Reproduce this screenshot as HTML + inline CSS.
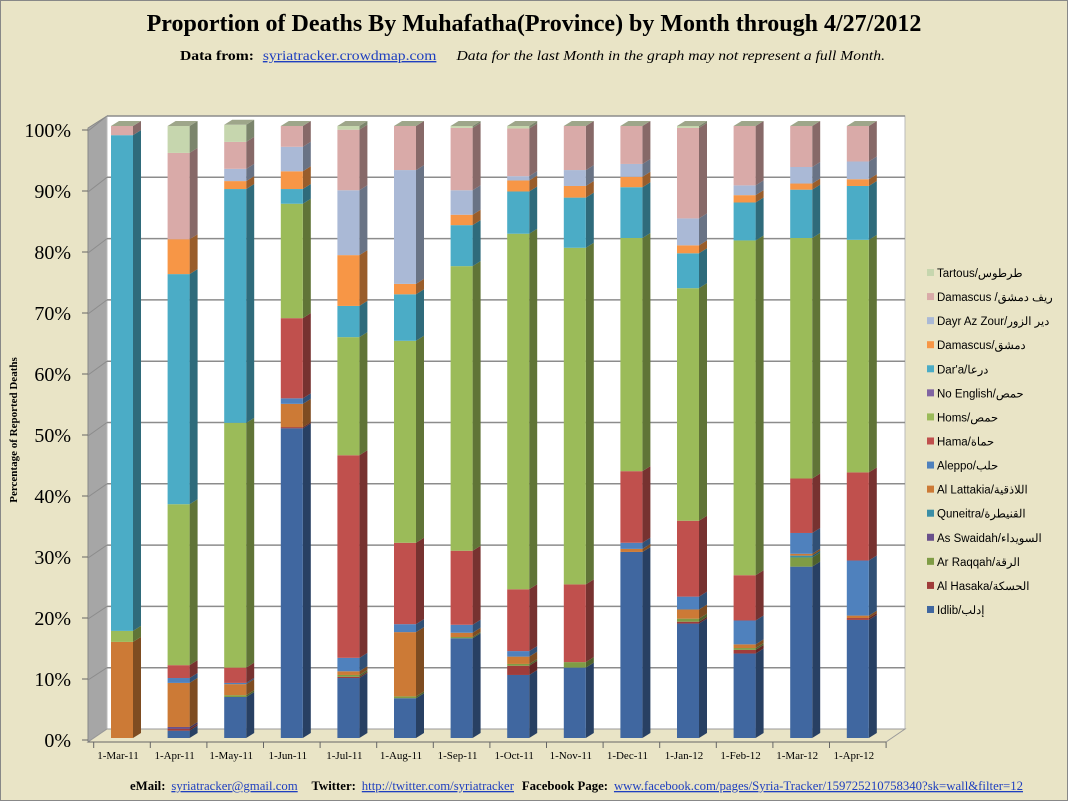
<!DOCTYPE html>
<html><head><meta charset="utf-8"><style>
body{margin:0;background:#e9e4c6;}
svg{display:block;font-family:"Liberation Serif",serif;}
.lg{font-family:"Liberation Sans","Noto Sans CJK SC",sans-serif;font-size:11.5px;}
</style></head><body>
<svg id="c" width="1068" height="801">
<rect x="0.5" y="0.5" width="1067" height="800" fill="#e9e4c6" stroke="#888"/>
<text x="534" y="31" text-anchor="middle" font-size="24" font-weight="bold">Proportion of Deaths By Muhafatha(Province) by Month through 4/27/2012</text>
<text y="60" font-size="14" textLength="705" lengthAdjust="spacingAndGlyphs" x="180"><tspan font-weight="bold">Data from:</tspan><tspan dx="8" fill="#1f3fbf" text-decoration="underline">syriatracker.crowdmap.com</tspan><tspan dx="18" font-style="italic">Data for the last Month in the graph may not represent a full Month.</tspan></text>
<polygon points="88,128 107,116 107,729 88,742" fill="#a6a6a6" stroke="#888"/>
<rect x="107" y="116" width="798" height="613" fill="#fff" stroke="#bbb"/>
<polygon points="88,742 107,729 905,729 886,742" fill="#e9e4c6" stroke="#999"/>
<g id="grid"></g><g id="bars"></g><g id="axes"></g><g id="legend"></g>
<text transform="translate(17,430) rotate(-90)" text-anchor="middle" font-size="11" font-weight="bold">Percentage of Reported Deaths</text>
<text y="790" font-size="13" x="130" textLength="893" lengthAdjust="spacingAndGlyphs"><tspan font-weight="bold">eMail:</tspan><tspan dx="6" fill="#1f3fbf" text-decoration="underline">syriatracker@gmail.com</tspan><tspan dx="14" font-weight="bold">Twitter:</tspan><tspan dx="6" fill="#1f3fbf" text-decoration="underline">http://twitter.com/syriatracker</tspan><tspan dx="8" font-weight="bold">Facebook  Page:</tspan><tspan dx="6" fill="#1f3fbf" text-decoration="underline">www.facebook.com/pages/Syria-Tracker/159725210758340?sk=wall&amp;filter=12</tspan></text>
</svg>
<script>
const categories=["1-Mar-11","1-Apr-11","1-May-11","1-Jun-11","1-Jul-11","1-Aug-11","1-Sep-11","1-Oct-11","1-Nov-11","1-Dec-11","1-Jan-12","1-Feb-12","1-Mar-12","1-Apr-12"];
const seriesNames=["Idlib/إدلب","Al Hasaka/الحسكة","Ar Raqqah/الرقة","As Swaidah/السويداء","Quneitra/القنيطرة","Al Lattakia/اللاذقية","Aleppo/حلب","Hama/حماة","Homs/حمص","No English/حمص","Dar'a/درعا","Damascus/دمشق","Dayr Az Zour/دير الزور","Damascus /ريف دمشق","Tartous/طرطوس"];
const idlib=[0,1.2,6.7,50.6,9.8,6.5,16.3,10.3,11.5,30.4,18.7,13.8,28,19.3];
const hasaka=[0,0.3,0,0.2,0.2,0,0,1.5,0,0,0.3,0.6,0,0.3];
const raqqah=[0,0,0.3,0,0.3,0.3,0.2,0.3,0.9,0,0.5,0.3,1.5,0];
const swaidah=[0,0.3,0,0,0,0,0,0,0,0,0,0,0,0];
const quneitra=[0,0,0,0,0,0,0,0,0,0,0,0,0.3,0];
const lattakia=[15.7,7.2,1.8,3.8,0.6,10.5,0.7,1.2,0,0.5,1.5,0.6,0.3,0.4];
const aleppo=[0,0.8,0.2,0.9,2.2,1.3,1.3,0.9,0,1,2.1,3.9,3.4,9];
const hama=[0,2.1,2.5,13.1,33.1,13.3,12.1,10.1,12.7,11.7,12.4,7.4,8.9,14.4];
const homs=[1.8,26.3,40,18.7,19.3,33,46.5,58.1,55,38.1,38,54.7,39.3,38];
const noEnglish=[0,0,0,0,0,0,0,0,0,0,0,0,0,0];
const daraa=[81,37.6,38.2,2.4,5.1,7.6,6.7,6.9,8.2,8.3,5.7,6.2,7.9,8.8];
const damascus=[0,5.7,1.3,2.9,8.3,1.7,1.7,1.8,1.9,1.7,1.3,1.2,1,1.1];
const dayr=[0,0,2,4,10.6,18.6,4,0.7,2.6,2.1,4.4,1.6,2.7,2.9];
const rif=[1.5,14.1,4.4,3.4,9.9,7.2,10.2,7.8,7.2,6.2,14.8,9.7,6.7,5.8];
const tartous=[0,4.4,2.8,0,0.6,0,0.3,0.4,0,0,0.3,0,0,0];
const yTicks=["0%","10%","20%","30%","40%","50%","60%","70%","80%","90%","100%"];
const series=[idlib,hasaka,raqqah,swaidah,quneitra,lattakia,aleppo,hama,homs,noEnglish,daraa,damascus,dayr,rif,tartous];
const colors=["#4067a0","#a03c3a","#7f9c45","#69508b","#3a8ea6","#cc7a36","#4f81bd","#c0504d","#9bbb59","#8064a2","#4bacc6","#f79646","#aab9d6","#d9aaa8","#c6d6ae"];
const NS="http://www.w3.org/2000/svg";
function el(t,a,p){const e=document.createElementNS(NS,t);for(const k in a)e.setAttribute(k,a[k]);p.appendChild(e);return e;}
function dark(c,f){const n=parseInt(c.slice(1),16);const r=Math.round((n>>16)*f),g=Math.round(((n>>8)&255)*f),b=Math.round((n&255)*f);return `rgb(${r},${g},${b})`;}
const yF=v=>738-6.12*v, yB=v=>729-6.13*v, yL=v=>740-6.1*v;
const xC=i=>122+i*56.6;
const grid=document.getElementById('grid'),bars=document.getElementById('bars'),axes=document.getElementById('axes'),legend=document.getElementById('legend');
yTicks.forEach((t,k)=>{const v=k*10;
 if(k>0){const g=el('line',{x1:107,x2:905,y1:yB(v),y2:yB(v),stroke:'#8c8c8c','stroke-width':1.5},grid);
 
 const d=el('line',{x1:88,x2:107,y1:yL(v)+1,y2:yB(v),stroke:'#8c8c8c'},grid);
 }
 const tk=el('line',{x1:82,x2:88,y1:yL(v),y2:yL(v),stroke:'#666'},axes);
 
 const tx=el('text',{x:71,y:yL(v)+7,'text-anchor':'end','font-size':20},axes);tx.textContent=t;
 
});
const ax=el('line',{x1:88,x2:886,y1:742,y2:742,stroke:'#666'},axes);

const W=22,DX=8,DY=5;
categories.forEach((c,i)=>{
 const x0=xC(i)-W/2;let cum=0;
 const g=el('g',{},bars);
 series.forEach((s,j)=>{const v=s[i];if(v<=0)return;
  const y1=yF(cum),y2=yF(cum+v);cum+=v;
  const side=el('polygon',{points:`${x0+W},${y1} ${x0+W+DX},${y1-DY} ${x0+W+DX},${y2-DY} ${x0+W},${y2}`,fill:dark(colors[j],0.62)},g);
  
  const r=el('rect',{x:x0,y:y2,width:W,height:y1-y2,fill:colors[j]},g);
  
 });
 const yt=yF(cum);
 const top=el('polygon',{points:`${x0},${yt} ${x0+DX},${yt-DY} ${x0+W+DX},${yt-DY} ${x0+W},${yt}`,fill:'#9ea68a'},g);
 
 const tk=el('line',{x1:xC(i)-28.3,x2:xC(i)-28.3,y1:742,y2:748,stroke:'#666'},axes);
 
 const tx=el('text',{x:xC(i)-4,y:759,'text-anchor':'middle','font-size':11},axes);tx.textContent=c;
 
});
const lastTick=el('line',{x1:xC(13)+28.3,x2:xC(13)+28.3,y1:742,y2:748,stroke:'#666'},axes);

for(let j=series.length-1;j>=0;j--){
 const y=273+(14-j)*24.07;
 const g=el('g',{},legend);
 const sw=el('rect',{x:927,y:y-4,width:7,height:7,fill:colors[j]},g);
 
 const t=el('text',{x:937,y:y+4,class:'lg'},g);t.textContent=seriesNames[j];
 
}
</script>
</body></html>
